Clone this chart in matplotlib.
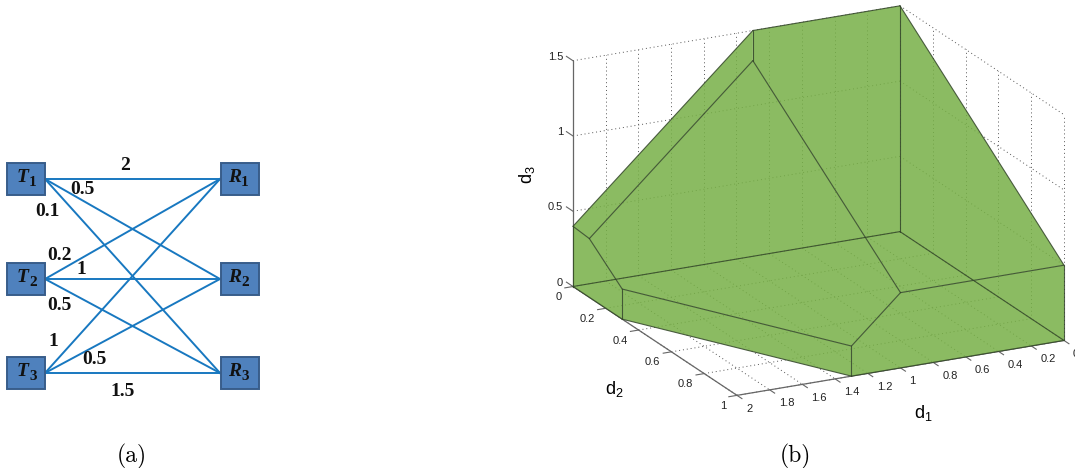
import matplotlib
matplotlib.use("Agg")
import matplotlib.pyplot as plt
from matplotlib.patches import Rectangle
from mpl_toolkits.mplot3d import proj3d
from mpl_toolkits.mplot3d.art3d import Poly3DCollection

plt.rcParams['font.family'] = ['Liberation Sans', 'DejaVu Sans']
plt.rcParams['mathtext.fontset'] = 'custom'
plt.rcParams['mathtext.rm'] = 'Liberation Sans'

W, H = 1075, 468

# panel (a)
tx_names = ['T', 'T', 'T']
rx_names = ['R', 'R', 'R']
node_y = [179, 279, 373]
weights = ['2', '0.5', '0.1', '0.2', '1', '0.5', '1', '0.5', '1.5']
weight_x = [125, 82, 47, 59, 81, 59, 53, 94, 123]
weight_y = [165, 190, 212, 256, 269, 306, 342, 360, 392]

# panel (b), polytope corners as (d1, d2, d3)
o = (0, 0, 0)
a0 = (2, 0, 0)
a1 = (2, 0.3, 0)
a2 = (1.3, 1, 0)
a3 = (0, 1, 0)
b0 = (2, 0, 0.4)
b1 = (1.9, 0, 0.3)
b2 = (2, 0.3, 0.2)
b3 = (1.3, 1, 0.2)
b4 = (1, 1, 0.5)
b5 = (0, 1, 0.5)
c0 = (0.9, 0, 1.3)
c1 = (0.9, 0, 1.5)
c2 = (0, 0, 1.5)

faces = [
    [a2, a3, b5, b4, b3],
    [a0, a1, b2, b1, b0],
    [a1, a2, b3, b2],
    [b0, c1, c0, b1],
    [c1, c2, b5, b4, c0],
    [c0, b4, b3, b2, b1],
]
edges = [
    (a0, a1), (a1, a2), (a2, a3), (a3, b5), (b5, b4), (b4, b3), (b3, b2), (b2, b1), (b1, b0), (b0, a0),
    (a1, b2), (a2, b3), (b0, c1), (c1, c0), (c0, b1), (c1, c2), (c2, b5), (c0, b4),
    (a0, o), (o, a3), (o, c2),
]

d1_ticks = [0, 0.2, 0.4, 0.6, 0.8, 1, 1.2, 1.4, 1.6, 1.8, 2]
d2_ticks = [0, 0.2, 0.4, 0.6, 0.8, 1]
d3_ticks = [0, 0.5, 1, 1.5]

fig = plt.figure(figsize=(W / 100, H / 100), dpi=100)

# ---- panel (a) ----
left = fig.add_axes([0, 0, 1, 1])
left.set_xlim(0, W)
left.set_ylim(H, 0)
left.axis('off')

for ty in node_y:
    for ry in node_y:
        left.plot([45, 220], [ty, ry], color='#1878c0', lw=1.4, zorder=1)


def node_label(x, y, name, sub):
    left.text(x, y, name, family='Liberation Serif', weight='bold', style='italic', fontsize=14,
              ha='center', va='center', zorder=3, color='#111111')
    left.text(x + 10, y + 5, sub, family='Liberation Serif', weight='bold', fontsize=11,
              ha='center', va='center', zorder=3, color='#111111')


for i, y in enumerate(node_y):
    left.add_patch(Rectangle((7, y - 16), 38, 32, fc='#4f81bd', ec='#385d8a', lw=1.4, zorder=2))
    left.add_patch(Rectangle((221, y - 16), 38, 32, fc='#4f81bd', ec='#385d8a', lw=1.4, zorder=2))
    node_label(23, y - 1, tx_names[i], str(i + 1))
    node_label(235, y - 1, rx_names[i], str(i + 1))

for s, x, y in zip(weights, weight_x, weight_y):
    left.text(x, y, s, family='Liberation Serif', weight='bold', fontsize=14,
              ha='center', va='center', color='#111111', zorder=3)

fig.text(132 / W, 1 - 456 / H, '(a)', family='cmr10', fontsize=17, ha='center', va='center')
fig.text(795 / W, 1 - 456 / H, '(b)', family='cmr10', fontsize=17, ha='center', va='center')

# ---- panel (b) ----
ax = fig.add_axes([0.4, 0.0, 0.5, 0.5], projection='3d', proj_type='ortho', computed_zorder=False)
ax.set_xlim(0, 2)
ax.set_ylim(0, 1)
ax.set_zlim(0, 1.5)
ax.set_box_aspect((366, 365, 239.5))
ax.view_init(elev=19.5, azim=63.3)
ax.set_axis_off()
ax.patch.set_visible(False)


def to_px(p):
    x, y, _ = proj3d.proj_transform(p[0], p[1], p[2], ax.get_proj())
    return ax.transData.transform((x, y))


# scale and shift the axes so the box corners land where they are in the reference
side, x0, y0 = 500.0, 500.0, 0.0
for _ in range(3):
    ax.set_position([x0 / W, y0 / H, side / W, side / H])
    ax.apply_aspect()
    p0 = to_px(a0)
    p1 = to_px(a3)
    side *= (1064 - 573) / (p1[0] - p0[0])
    ax.set_position([x0 / W, y0 / H, side / W, side / H])
    ax.apply_aspect()
    p0 = to_px(a0)
    x0 += 573 - p0[0]
    y0 += (H - 286.5) - p0[1]


def line3(p, q, **kw):
    ax.plot([p[0], q[0]], [p[1], q[1]], [p[2], q[2]], clip_on=False, **kw)


grid_style = dict(color='#555555', lw=0.7, ls=(0, (1, 3)), zorder=1)
for v in d1_ticks:
    line3((v, 0, 0), (v, 1, 0), **grid_style)
    line3((v, 0, 0), (v, 0, 1.5), **grid_style)
for v in d2_ticks:
    line3((0, v, 0), (2, v, 0), **grid_style)
    line3((0, v, 0), (0, v, 1.5), **grid_style)
for v in d3_ticks:
    line3((0, 0, v), (2, 0, v), **grid_style)
    line3((0, 0, v), (0, 1, v), **grid_style)

axis_style = dict(color='#666666', lw=0.9, zorder=1)
line3((2, 0, 0), (2, 0, 1.5), **axis_style)
line3((2, 0, 0), (2, 1, 0), **axis_style)
line3((0, 1, 0), (2, 1, 0), **axis_style)

tick_style = dict(color='#666666', lw=0.8, zorder=1)
label_style = dict(fontsize=8, color='#222222', zorder=5, clip_on=False)
for v in d1_ticks:
    line3((v, 1, 0), (v, 1.03, 0), **tick_style)
    ax.text(v + 0.0553, 1.11, 0, '%g' % v, ha='left', va='center', **label_style)
for v in d2_ticks:
    line3((2, v, 0), (2.05, v, 0), **tick_style)
    ax.text(2.1308, v + 0.0633, 0, '%g' % v, ha='right', va='center', **label_style)
for v in d3_ticks:
    line3((2, 0, v), (2, -0.04, v), **tick_style)
    ax.text(2.0195, -0.0416, v, '%g' % v, ha='right', va='center', **label_style)

poly = Poly3DCollection(faces, facecolor='#77b046', edgecolor='none', alpha=0.85, zorder=2)
ax.add_collection3d(poly)

for p, q in edges:
    line3(p, q, color='#33452a', lw=0.8, alpha=0.85, zorder=3, solid_capstyle='round')

fig.text(923 / W, 1 - 413 / H, r'$\mathregular{d_1}$', fontsize=13, ha='center', va='center')
fig.text(614 / W, 1 - 389 / H, r'$\mathregular{d_2}$', fontsize=13, ha='center', va='center')
fig.text(527 / W, 1 - 175 / H, r'$\mathregular{d_3}$', fontsize=13, ha='center', va='center', rotation=90)

fig.savefig('out.png', dpi=100)
